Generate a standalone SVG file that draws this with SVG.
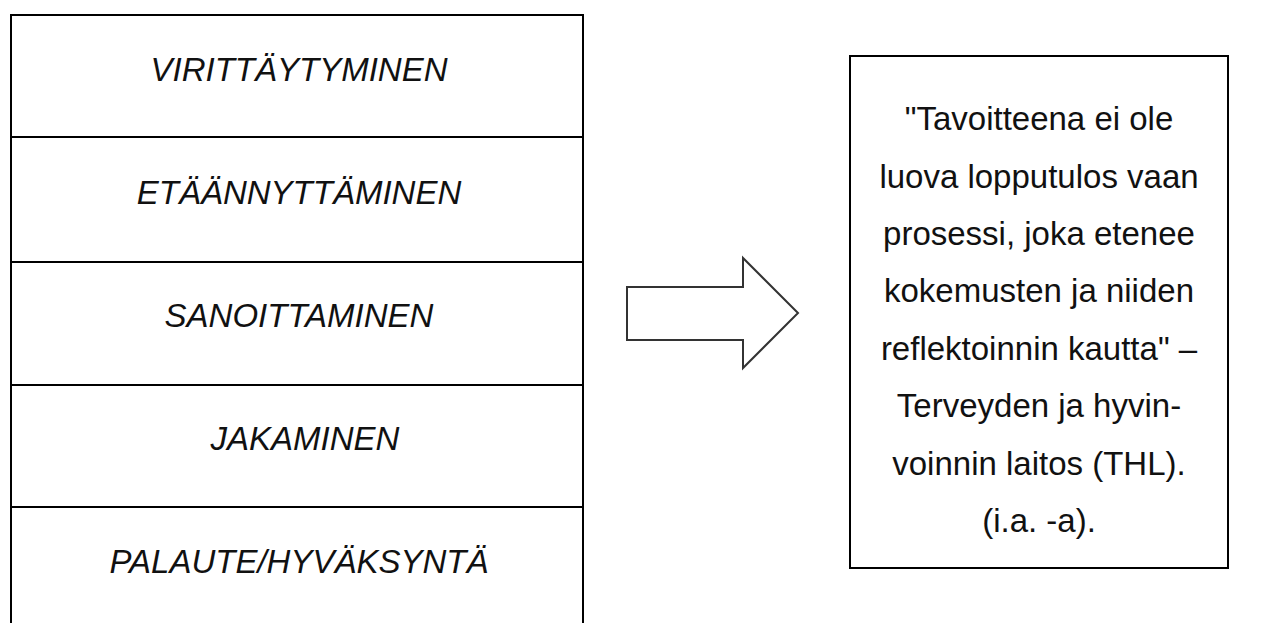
<svg xmlns="http://www.w3.org/2000/svg" width="1265" height="623" viewBox="0 0 1265 623">
<style>
.box{fill:#fff;stroke:#000;stroke-width:2}
.div{stroke:#000;stroke-width:2}
.lbl{font-family:"Liberation Sans",Arial,sans-serif;font-size:33px;font-style:italic;fill:#111;text-anchor:middle}
.q{font-family:"Liberation Sans",Arial,sans-serif;font-size:33px;fill:#111;text-anchor:middle}
.arrow{fill:#fff;stroke:#333;stroke-width:2;stroke-linejoin:miter}
</style>
<rect width="1265" height="623" fill="#fff"/>
<g id="stages">
  <rect class="box" x="11" y="15" width="572" height="640"/>
  <line class="div" x1="11" y1="137" x2="583" y2="137"/>
  <line class="div" x1="11" y1="262" x2="583" y2="262"/>
  <line class="div" x1="11" y1="385" x2="583" y2="385"/>
  <line class="div" x1="11" y1="507" x2="583" y2="507"/>
  <g id="stage1"><text class="lbl" x="299" y="81">VIRITTÄYTYMINEN</text></g>
  <g id="stage2"><text class="lbl" x="299" y="204">ETÄÄNNYTTÄMINEN</text></g>
  <g id="stage3"><text class="lbl" x="299" y="327">SANOITTAMINEN</text></g>
  <g id="stage4"><text class="lbl" x="305" y="450">JAKAMINEN</text></g>
  <g id="stage5"><text class="lbl" x="299" y="573">PALAUTE/HYVÄKSYNTÄ</text></g>
</g>
<g id="connectors">
  <polygon class="arrow" points="627,287 743,287 743,258 798,313 743,368 743,340 627,340"/>
</g>
<g id="quote">
  <rect class="box" x="850" y="56" width="378" height="512"/>
  <text class="q" x="1039" y="130">"Tavoitteena ei ole</text>
  <text class="q" x="1039" y="188">luova lopputulos vaan</text>
  <text class="q" x="1039" y="245">prosessi, joka etenee</text>
  <text class="q" x="1039" y="302">kokemusten ja niiden</text>
  <text class="q" x="1039" y="360">reflektoinnin kautta" –</text>
  <text class="q" x="1039" y="417">Terveyden ja hyvin-</text>
  <text class="q" x="1039" y="475">voinnin laitos (THL).</text>
  <text class="q" x="1039" y="532">(i.a. -a).</text>
</g>
</svg>
